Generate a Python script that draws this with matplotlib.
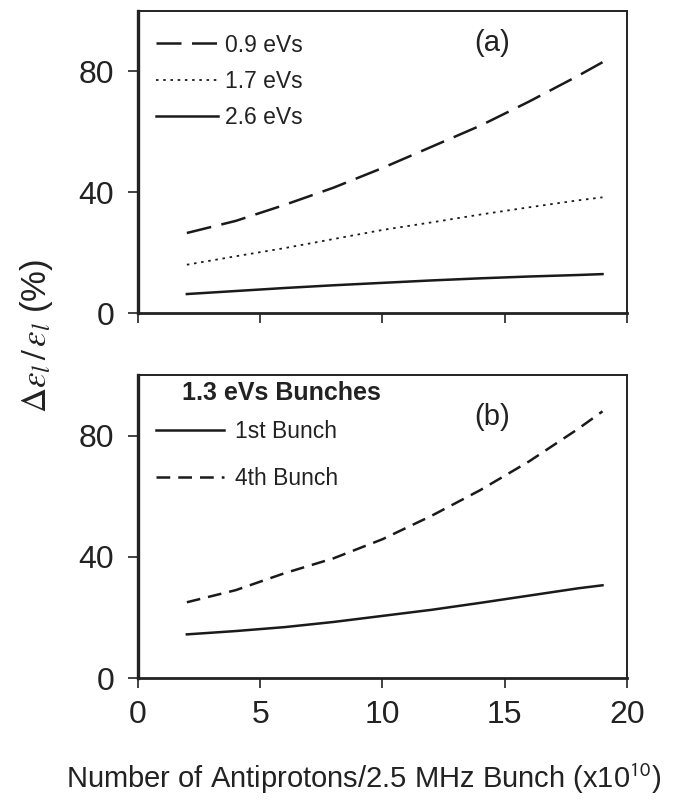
import numpy as np
import matplotlib.pyplot as plt

plt.rcParams['font.family'] = ['Liberation Sans', 'DejaVu Sans']
plt.rcParams['mathtext.fontset'] = 'stix'

# number of antiprotons per bunch (x1e10)
x = [2, 4, 6, 8, 10, 12, 14, 16, 18, 19]

# (a) emittance growth vs. initial longitudinal emittance
eps_09 = [26.5, 30.5, 35.8, 41.5, 48.0, 55.0, 62.0, 70.0, 78.5, 83.0]
eps_17 = [16.0, 18.8, 21.5, 24.5, 27.5, 30.0, 32.6, 35.0, 37.3, 38.3]
eps_26 = [6.3, 7.3, 8.3, 9.2, 10.0, 10.8, 11.5, 12.1, 12.6, 12.9]

# (b) 1.3 eVs bunches
bunch_1st = [14.4, 15.5, 16.8, 18.5, 20.5, 22.5, 24.8, 27.2, 29.6, 30.6]
bunch_4th = [25.0, 29.0, 34.6, 39.5, 45.8, 53.5, 62.0, 71.5, 82.2, 88.0]

xticks = [0, 5, 10, 15, 20]
yticks = [0, 40, 80]

ink = '#1a1a1a'

fig = plt.figure(figsize=(6.74, 8.09), dpi=100)
ax1 = fig.add_axes([0.2047, 0.613, 0.7255, 0.3736])
ax2 = fig.add_axes([0.2047, 0.1619, 0.7255, 0.3746])

for ax in (ax1, ax2):
    ax.set_xlim(0, 20)
    ax.set_ylim(0, 100)
    ax.set_xticks(xticks)
    ax.set_yticks(yticks)
    ax.tick_params(direction='out', length=7, width=1.2, labelsize=23,
                   color='#222222', labelcolor='#222222')
    ax.tick_params(axis='y', pad=10)
    ax.tick_params(axis='x', pad=9)
    for s in ax.spines.values():
        s.set_linewidth(1.4)
        s.set_color('#222222')
    ax.spines['left'].set_linewidth(2.4)
    ax.spines['bottom'].set_linewidth(2.0)

ax1.tick_params(axis='x', labelbottom=False)

# panel (a)
ax1.plot(x, eps_09, color=ink, lw=1.8, dashes=(10, 4.2), label='0.9 eVs')
ax1.plot(x, eps_17, color=ink, lw=1.3, dashes=(1.4, 2.6), label='1.7 eVs')
ax1.plot(x, eps_26, color=ink, lw=1.8, label='2.6 eVs')
ax1.legend(loc='upper left', bbox_to_anchor=(0.037, 0.925), frameon=False,
           borderpad=0, borderaxespad=0, handlelength=2.7, handletextpad=0.3,
           labelspacing=0.585, fontsize=16.5, labelcolor='#222222')
ax1.text(0.725, 0.895, '(a)', transform=ax1.transAxes, fontsize=21,
         ha='center', va='center', color='#222222')

# panel (b)
ax2.plot(x, bunch_1st, color=ink, lw=1.8, label='1st Bunch')
ax2.plot(x, bunch_4th, color=ink, lw=1.8, dashes=(5.5, 3.2), label='4th Bunch')
ax2.legend(loc='upper left', bbox_to_anchor=(0.037, 0.8525), frameon=False,
           borderpad=0, borderaxespad=0, handlelength=2.95, handletextpad=0.5,
           labelspacing=1.07, fontsize=16.5, labelcolor='#222222')
ax2.text(0.09, 0.94, '1.3 eVs Bunches', transform=ax2.transAxes, fontsize=18,
         fontweight='bold', ha='left', va='center', color='#222222')
ax2.text(0.725, 0.862, '(b)', transform=ax2.transAxes, fontsize=21,
         ha='center', va='center', color='#222222')

fig.text(0.54, 0.037, r'Number of Antiprotons/2.5 MHz Bunch (x10$^{\mathsf{10}}$)',
         fontsize=21, ha='center', va='center', color='#222222')
fig.text(0.054, 0.585, r'$\Delta\varepsilon_l\,/\,\varepsilon_l$ (%)',
         rotation=90, fontsize=25, ha='center', va='center', color='#222222')

fig.savefig('out.png', dpi=100)
